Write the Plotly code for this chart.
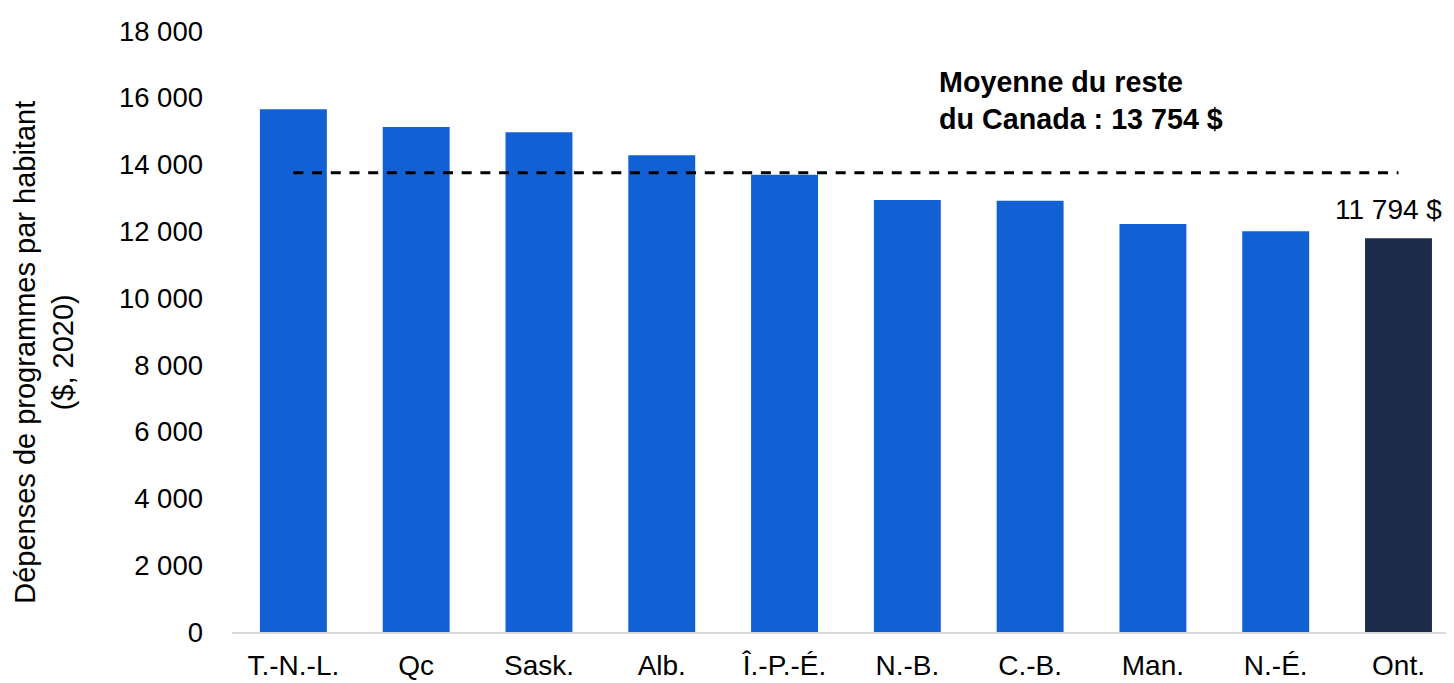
import plotly.graph_objects as go

provinces = ["T.-N.-L.", "Qc", "Sask.", "Alb.", "Î.-P.-É.", "N.-B.", "C.-B.", "Man.", "N.-É.", "Ont."]
spending = [15660, 15125, 14965, 14280, 13695, 12935, 12915, 12220, 12000, 11794]
bar_colors = ["#1160D4"] * 9 + ["#1D2B4A"]
rest_of_canada_avg = 13754
y_ticks = [0, 2000, 4000, 6000, 8000, 10000, 12000, 14000, 16000, 18000]
y_tick_labels = ["0", "2 000", "4 000", "6 000", "8 000", "10 000", "12 000", "14 000", "16 000", "18 000"]

FONT = "Liberation Sans, Arial, sans-serif"

fig = go.Figure()
fig.add_trace(go.Bar(
    x=list(range(len(provinces))), y=spending,
    marker=dict(color=bar_colors, line=dict(width=0)),
    width=0.545, hoverinfo="skip", showlegend=False,
))
fig.add_trace(go.Scatter(
    x=[0, len(provinces) - 1], y=[rest_of_canada_avg, rest_of_canada_avg],
    mode="lines", line=dict(color="black", width=3, dash="10px,8.7px"),
    hoverinfo="skip", showlegend=False,
))

fig.add_annotation(
    x=len(provinces) - 1, y=spending[-1], xref="x", yref="y",
    text="11 794 $", showarrow=False, yanchor="middle", xanchor="center", yshift=29, xshift=-10,
    font=dict(family=FONT, size=28, color="black"),
)
fig.add_annotation(
    x=5.24, y=15918, xref="x", yref="y",
    text="<b>Moyenne du reste<br>du Canada : 13 754 $</b>", showarrow=False,
    xanchor="left", yanchor="middle", align="left",
    font=dict(family=FONT, size=28.7, color="black"),
)
fig.add_annotation(
    x=-0.154, y=0.466, xref="paper", yref="paper",
    text="Dépenses de programmes par habitant<br>($, 2020)", showarrow=False,
    textangle=-90, xanchor="center", yanchor="middle", align="center",
    font=dict(family=FONT, size=29, color="black"),
)

fig.update_layout(
    width=1454, height=683,
    margin=dict(l=224, r=8, t=19, b=59),
    paper_bgcolor="white", plot_bgcolor="white",
    font=dict(family=FONT, size=28, color="black"),
    xaxis=dict(
        tickmode="array", tickvals=list(range(len(provinces))), ticktext=provinces,
        range=[-0.5, 9.452], showgrid=False, zeroline=False,
        showline=True, linecolor="#D9D9D9", linewidth=2, ticks="",
        tickfont=dict(family=FONT, size=28, color="black"), ticklabelstandoff=7,
    ),
    yaxis=dict(
        range=[0, 18000], tickmode="array", tickvals=y_ticks, ticktext=y_tick_labels,
        showgrid=False, zeroline=False, showline=False, ticks="",
        tickfont=dict(family=FONT, size=27.5, color="black"), ticklabelstandoff=28,
        ticklabeloverflow="allow",
    ),
)

fig.write_html("out.html")
